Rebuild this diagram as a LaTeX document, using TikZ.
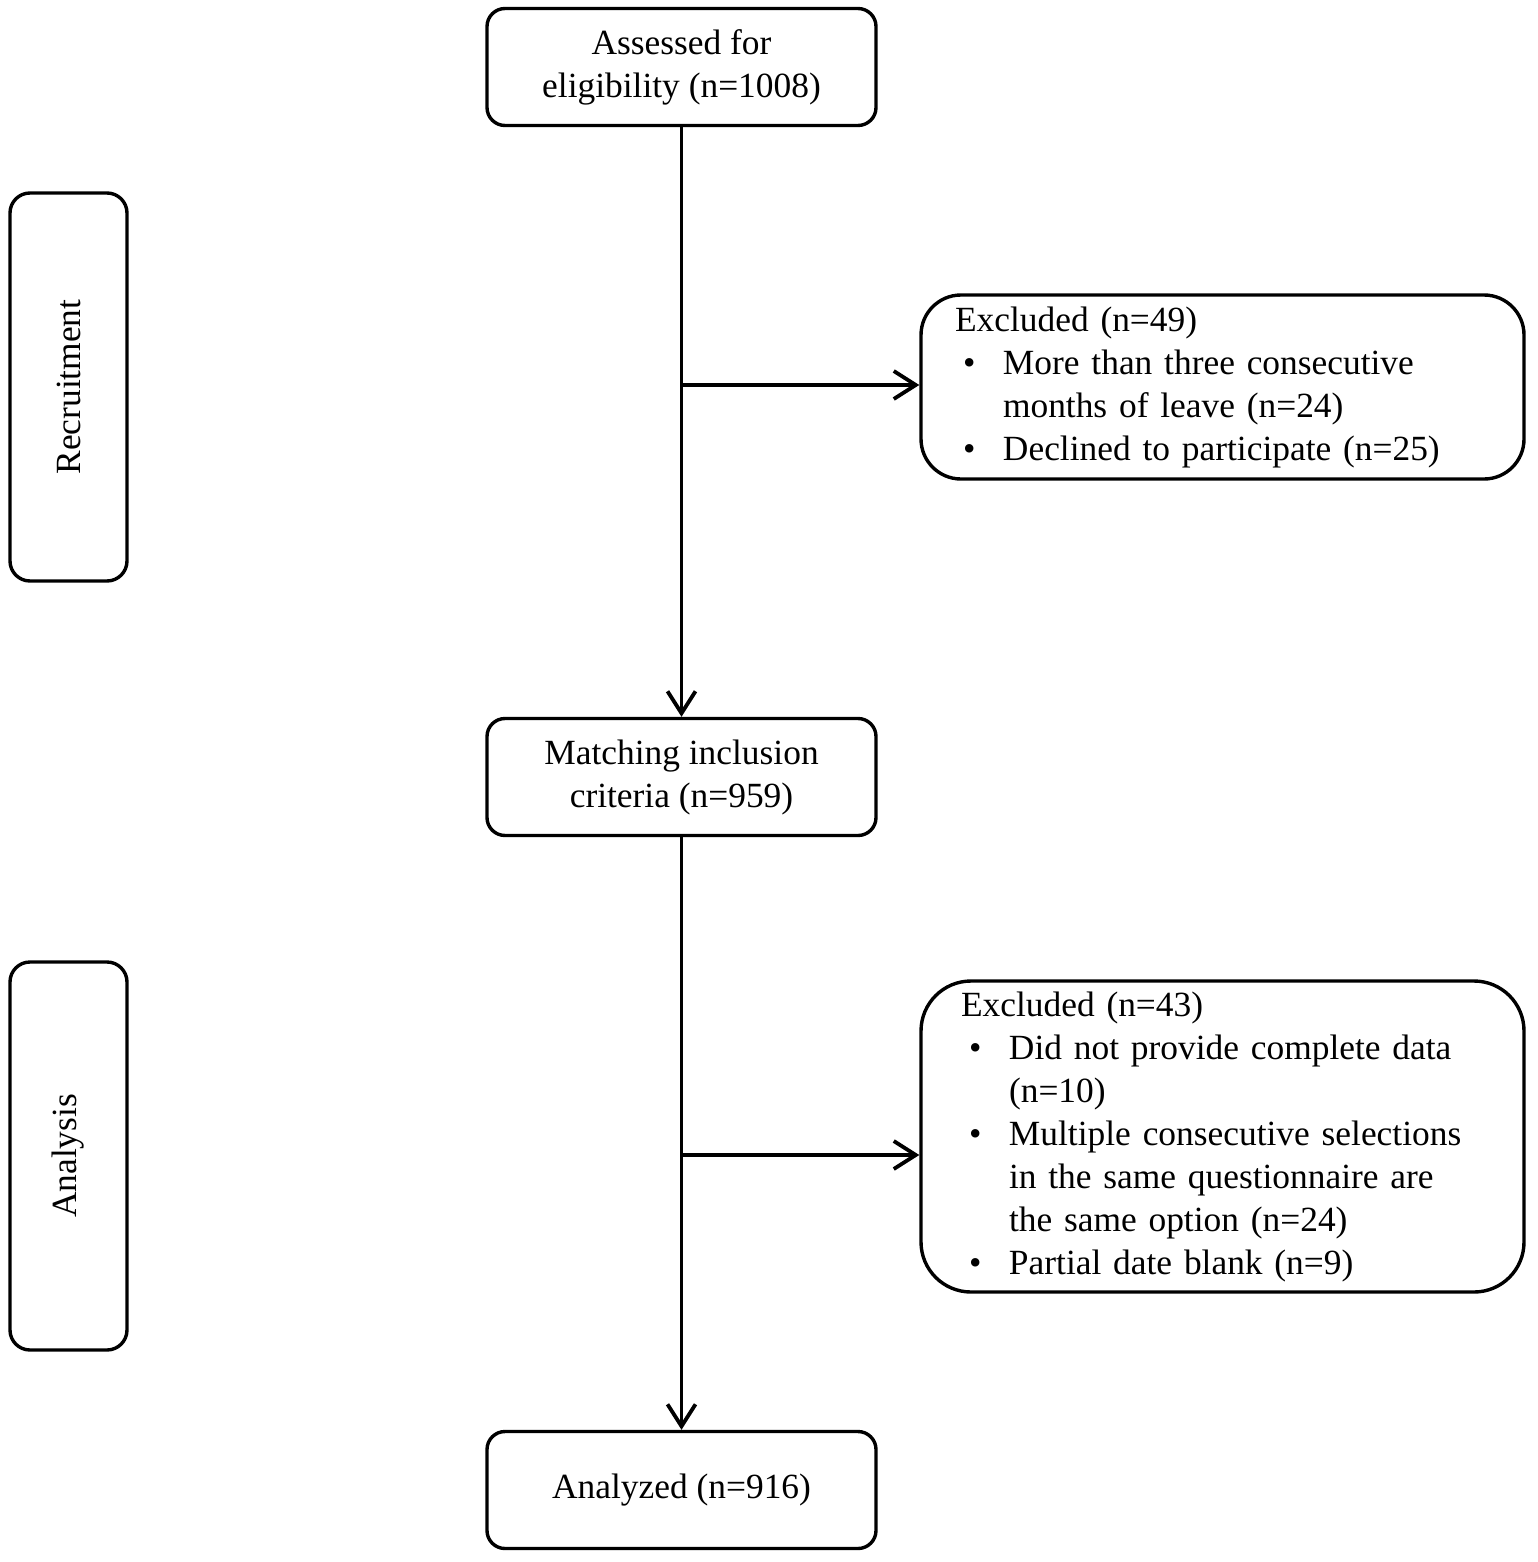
\documentclass[tikz,border=0pt]{standalone}
\usepackage{fontspec}
\setmainfont{Liberation Serif}
\usetikzlibrary{arrows.meta}

\tikzset{every picture/.style={line width=1.7pt}}
\tikzset{
  txt/.style={font=\fontsize{17.7}{21.5}\selectfont},
  stepbox/.style={txt, draw, rounded corners=9pt, align=center, inner sep=0pt,
    minimum width=194.5pt, minimum height=58.5pt},
  sidebox/.style={txt, draw, rounded corners=10pt, inner sep=0pt, rotate=90,
    minimum width=194pt, minimum height=58.5pt},
  exbox/.style={txt, draw, align=left, inner ysep=0pt, inner xsep=17pt,
    text width=267.5pt, minimum width=301.5pt},
  arr/.style={line width=1.9pt, -{Straight Barb[length=11pt,width=14pt]}}
}
\newcommand{\bul}{\hspace*{4pt}\textbullet}

\begin{document}
\begin{tikzpicture}[x=0.5pt,y=0.5pt,yscale=-1]
\useasboundingbox (0,0) rectangle (1537,1562);

%Shape: side boxes
\node (recruit) [sidebox] at (68.5,387) {Recruitment};
\node (analysis) [sidebox] at (68.5,1156) {Analysis};

%Shape: main boxes
\node (assess) [stepbox] at (681.5,67) {Assessed for\\eligibility (n=1008)};
\node (match) [stepbox] at (681.5,777) {Matching inclusion\\criteria (n=959)};
\node (final) [stepbox] at (681.5,1490) {Analyzed (n=916)};

%Shape: excluded boxes
\node (exclA) [exbox, rounded corners=20pt, minimum height=92pt] at (1222.5,387) {%
\begin{tabular}{@{}p{24pt}@{}l@{}}
\multicolumn{2}{@{}l}{Excluded (n=49)}\\
\bul & More than three consecutive\\
 & months of leave (n=24)\\
\bul & Declined to participate (n=25)
\end{tabular}};
\node (exclB) [exbox, rounded corners=25pt, inner xsep=20pt, text width=261.5pt, minimum height=155.5pt] at (1222.5,1136.5) {%
\begin{tabular}{@{}p{24pt}@{}l@{}}
\multicolumn{2}{@{}l}{Excluded (n=43)}\\
\bul & Did not provide complete data\\
 & (n=10)\\
\bul & Multiple consecutive selections\\
 & in the same questionnaire are\\
 & the same option (n=24)\\
\bul & Partial date blank (n=9)
\end{tabular}};

%Branch points on the main line
\coordinate (splitA) at (681.5,385);
\coordinate (splitB) at (681.5,1155);

%Straight Lines
\draw [arr] (assess) -- (match);
\draw [arr] (match) -- (final);
\draw [arr] (splitA) -- (splitA -| exclA.west);
\draw [arr] (splitB) -- (splitB -| exclB.west);

\end{tikzpicture}
\end{document}
